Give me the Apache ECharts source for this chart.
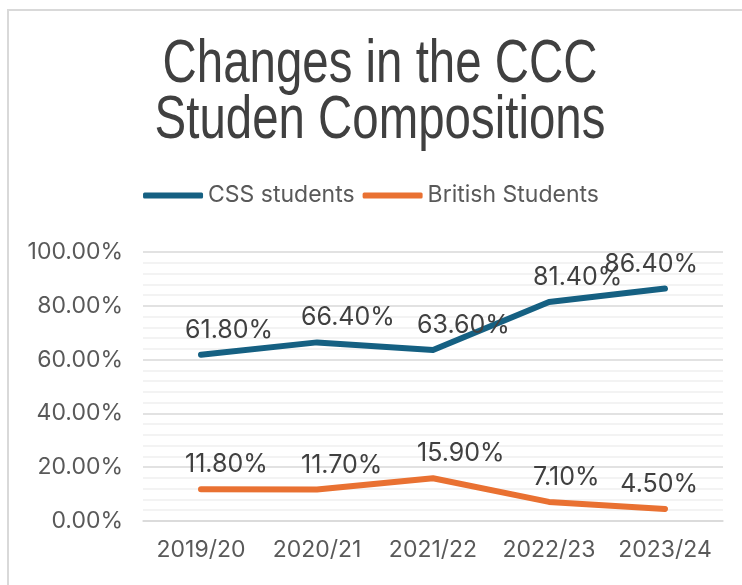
<!DOCTYPE html>
<html>
<head>
<meta charset="utf-8">
<script src="https://cdn.jsdelivr.net/npm/echarts@6/dist/echarts.min.js"></script>
<style>
  html, body { margin: 0; padding: 0; background: #ffffff; }
  #chart { width: 742px; height: 585px; }
</style>
</head>
<body>
<div id="chart"></div>
<script>
// Academic years on the category axis
const years = ['2019/20', '2020/21', '2021/22', '2022/23', '2023/24'];
// Share of each student group, in percent
const cssStudents = [61.8, 66.4, 63.6, 81.4, 86.4];
const britishStudents = [11.8, 11.7, 15.9, 7.1, 4.5];
// Value axis range, in percent
const yMin = 0;
const yMax = 100;
const yStep = 20;

const AXIS_FONT = 'Inter, "Liberation Sans", sans-serif';
const TITLE_FONT = '"Liberation Sans", Arial, sans-serif';

const chart = echarts.init(document.getElementById('chart'), null, { renderer: 'canvas' });

// Value labels start a little left of their point and run to the right;
// the last one is pulled back so it ends just past its point.
function placeValueLabel(params) {
  const w = params.labelRect.width;
  const last = params.dataIndex === years.length - 1;
  return { dx: last ? 33 - w / 2 : w / 2 - 16 };
}

function lineSeries(name, values, color) {
  return {
    name: name,
    type: 'line',
    data: values,
    symbol: 'circle',
    symbolSize: 0.01,
    showSymbol: true,
    smooth: false,
    lineStyle: { width: 6, color: color, cap: 'round', join: 'round' },
    itemStyle: { color: color },
    label: {
      show: true,
      position: 'top',
      distance: 12,
      color: '#404040',
      fontSize: 25,
      fontFamily: AXIS_FONT,
      formatter: p => p.value.toFixed(2) + '%'
    },
    labelLayout: placeValueLabel,
    emphasis: { disabled: true }
  };
}

chart.setOption({
  animation: false,
  backgroundColor: '#ffffff',
  graphic: [
    {
      type: 'rect',
      shape: { x: 8, y: 10, width: 760, height: 600 },
      style: { fill: 'none', stroke: '#d9d9d9', lineWidth: 2 },
      silent: true,
      z: -10
    },
    {
      // Two-line chart title, drawn with a narrowed sans face
      type: 'text',
      x: 380,
      y: 37,
      scaleX: 0.765,
      style: {
        text: 'Changes in the CCC\nStuden Compositions',
        font: 'normal 62px ' + TITLE_FONT,
        fill: '#404040',
        align: 'center',
        verticalAlign: 'top',
        lineHeight: 56
      },
      silent: true
    }
  ],
  legend: {
    top: 179,
    left: 'center',
    itemWidth: 60,
    itemHeight: 6,
    itemGap: 8,
    icon: 'roundRect',
    textStyle: {
      fontFamily: AXIS_FONT,
      fontSize: 23,
      color: '#595959'
    },
    data: ['CSS students', 'British Students']
  },
  grid: {
    left: 143,
    right: 19,
    top: 252,
    bottom: 64,
    containLabel: false
  },
  xAxis: {
    type: 'category',
    data: years,
    boundaryGap: true,
    axisLine: { show: true, lineStyle: { color: '#d9d9d9', width: 1.5 } },
    axisTick: { show: false },
    axisLabel: {
      interval: 0,
      margin: 18,
      color: '#595959',
      fontSize: 23,
      fontFamily: AXIS_FONT
    },
    splitLine: { show: false }
  },
  yAxis: {
    type: 'value',
    min: yMin,
    max: yMax,
    interval: yStep,
    axisLine: { show: false },
    axisTick: { show: false },
    axisLabel: {
      margin: 20,
      color: '#595959',
      fontSize: 23,
      fontFamily: AXIS_FONT,
      formatter: v => v.toFixed(2) + '%'
    },
    splitLine: { show: true, lineStyle: { color: '#d9d9d9', width: 1.5 } },
    minorTick: { show: false, splitNumber: 5 },
    minorSplitLine: { show: true, lineStyle: { color: '#efefef', width: 1.5 } }
  },
  series: [
    lineSeries('CSS students', cssStudents, '#156082'),
    lineSeries('British Students', britishStudents, '#E97132')
  ]
});
</script>
</body>
</html>
